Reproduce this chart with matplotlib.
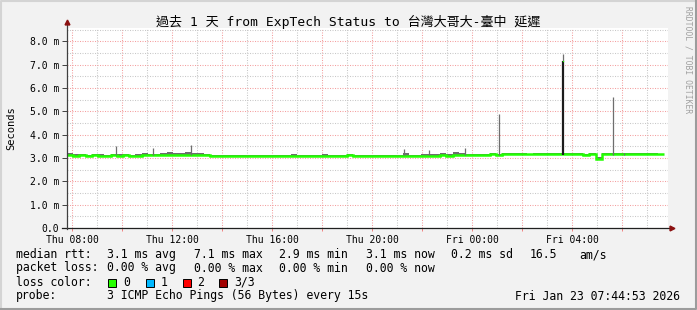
import matplotlib
matplotlib.use("Agg")
import matplotlib.pyplot as plt
from matplotlib.patches import Rectangle
from matplotlib.lines import Line2D
from matplotlib.ticker import MultipleLocator, FuncFormatter
import numpy as np

# ---- data (seconds, shown in milli-seconds) ----
# 15 minute buckets starting Thu 07:48 (hours since Thu 00:00)
t_start = 7.8
t_end = 31.68
median_ms = [
    3.12, 3.10, 3.11, 3.10, 3.11, 3.10, 3.10, 3.11,
    3.10, 3.11, 3.10, 3.10, 3.12, 3.11, 3.11, 3.12,
    3.12, 3.11, 3.12, 3.11, 3.12, 3.11, 3.11, 3.10,
    3.10, 3.09, 3.10, 3.09, 3.09, 3.10, 3.09, 3.09,
    3.09, 3.10, 3.09, 3.09, 3.10, 3.09, 3.09, 3.10,
    3.09, 3.10, 3.10, 3.09, 3.10, 3.11, 3.10, 3.10,
    3.09, 3.08, 3.09, 3.08, 3.09, 3.09, 3.10, 3.09,
    3.09, 3.10, 3.09, 3.10, 3.11, 3.10, 3.11, 3.12,
    3.12, 3.11, 3.12, 3.13, 3.15, 3.14, 3.15, 3.15,
    3.16, 3.15, 3.15, 3.16, 3.15, 3.16, 3.15, 3.16,
    3.15, 3.16, 3.15, 3.14, 3.16, 2.97, 3.15, 3.16,
    3.16, 3.16, 3.15, 3.16, 3.16, 3.15, 3.16, 3.15,
]
smoke_top_ms = [
    3.22, 3.15, 3.18, 3.14, 3.16, 3.15, 3.14, 3.16,
    3.15, 3.16, 3.14, 3.15, 3.20, 3.18, 3.17, 3.22,
    3.24, 3.20, 3.22, 3.25, 3.22, 3.21, 3.18, 3.14,
    3.13, 3.12, 3.14, 3.12, 3.13, 3.14, 3.12, 3.13,
    3.12, 3.14, 3.12, 3.13, 3.15, 3.13, 3.12, 3.14,
    3.13, 3.15, 3.14, 3.12, 3.14, 3.16, 3.14, 3.13,
    3.13, 3.12, 3.14, 3.12, 3.13, 3.14, 3.20, 3.14,
    3.14, 3.18, 3.15, 3.16, 3.20, 3.17, 3.24, 3.20,
    3.18, 3.16, 3.18, 3.19, 3.20, 3.19, 3.22, 3.20,
    3.21, 3.20, 3.19, 3.21, 3.20, 3.21, 3.20, 3.21,
    3.20, 3.21, 3.20, 3.19, 3.21, 3.02, 3.20, 3.21,
    3.21, 3.22, 3.20, 3.21, 3.20, 3.21, 3.20, 3.19,
]
# thin single-sample spikes in the smoke
spike_t = [9.76, 11.24, 12.75, 21.28, 22.28, 23.72, 25.08, 29.64, 30.08]
spike_top = [3.50, 3.42, 3.55, 3.38, 3.33, 3.43, 4.90, 5.60, 3.22]
# the big one around Fri 03:38
big_t = 27.63
big_dense_top = 7.17
big_max = 7.47

x_ticks_labels = {8: "Thu 08:00", 12: "Thu 12:00", 16: "Thu 16:00",
                  20: "Thu 20:00", 24: "Fri 00:00", 28: "Fri 04:00"}

W, H = 697, 310
mono = ["DejaVu Sans Mono", "Noto Sans CJK TC"]
bg = "#f2f2f2"

fig = plt.figure(figsize=(W / 100, H / 100), dpi=100, facecolor=bg)
ax = fig.add_axes([67 / W, (H - 228) / H, 601 / W, 200 / H])
ax.set_facecolor("white")
ax.set_xlim(t_start, t_start + 601 / 25)
ax.set_ylim(0, 200 / 23.35)

# grid
dot = (0, (1, 1.4))
ax.xaxis.set_major_locator(MultipleLocator(2))
ax.xaxis.set_minor_locator(MultipleLocator(1))
ax.yaxis.set_major_locator(MultipleLocator(1))
ax.yaxis.set_minor_locator(MultipleLocator(0.5))
ax.grid(which="minor", color="#c8c8c8", linestyle=dot, linewidth=0.75)
ax.grid(which="major", color="#f4a0a0", linestyle=dot, linewidth=0.75)
ax.set_axisbelow(True)

edges = np.linspace(t_start, t_end, len(median_ms) + 1)
ax.stairs(smoke_top_ms, edges, baseline=median_ms, fill=True,
          color="#6e6e6e", linewidth=0)
ax.vlines(spike_t, 3.12, spike_top, color="#6e6e6e", linewidth=0.9)
ax.vlines(big_t, big_dense_top, big_max, color="#6e6e6e", linewidth=0.9)
ax.vlines(big_t, 3.12, big_dense_top, color="#1c1c1c", linewidth=1.6)
ax.stairs(median_ms, edges, baseline=None, color="#22ff00", linewidth=1.8)
ax.plot([big_t], [big_dense_top], "s", color="#22ff00", markersize=0.9,
        markeredgewidth=0)

# axes lines with arrows
for s in ax.spines.values():
    s.set_visible(False)
ax.add_line(Line2D([-5 / 601, 603 / 601], [0, 0], transform=ax.transAxes,
                   color="#202020", linewidth=0.9, clip_on=False))
ax.add_line(Line2D([0, 0], [-1 / 200, 204 / 200], transform=ax.transAxes,
                   color="#404040", linewidth=0.9, clip_on=False))
ax.plot([605 / 601], [0], ">", transform=ax.transAxes, color="#8b1010",
        markersize=3.5, clip_on=False)
ax.plot([0], [206 / 200], "^", transform=ax.transAxes, color="#8b1010",
        markersize=3.5, clip_on=False)

ax.tick_params(axis="y", which="major", length=3.5, width=0.7, color="#404040",
               pad=2, labelsize=7)
ax.tick_params(axis="y", which="minor", length=0)
ax.tick_params(axis="x", which="major", length=2.5, width=0.7, color="#f08080",
               pad=2.5, labelsize=7)
ax.tick_params(axis="x", which="minor", length=0)
ax.yaxis.set_major_formatter(FuncFormatter(lambda v, p: "0.0" if v == 0 else f"{v:.1f} m"))
ax.xaxis.set_major_formatter(FuncFormatter(lambda v, p: x_ticks_labels.get(int(round(v)), "")))
for lab in ax.get_xticklabels() + ax.get_yticklabels():
    lab.set_family(mono)

# title / labels
fig.text(348.5 / W, 1 - 22 / H, "過去 1 天 from ExpTech Status to 台灣大哥大-臺中 延遲",
         family=mono, fontsize=9.4, ha="center", va="center")
fig.text(11 / W, 1 - 128 / H, "Seconds", family=mono, fontsize=7.5,
         rotation=90, ha="center", va="center")
fig.text(688 / W, 1 - 60 / H, "RRDTOOL / TOBI OETIKER", family=mono, fontsize=5.8,
         rotation=-90, ha="center", va="center", color="#a0a0a0")

# legend block
fs = 8.3
rows = [
    (254.5, [(16, "median rtt:"), (107, "3.1 ms avg"), (194, "7.1 ms max"),
             (279, "2.9 ms min"), (366, "3.1 ms now"), (451, "0.2 ms sd"),
             (530, "16.5"), (579, "am/s")]),
    (268, [(16, "packet loss:"), (107, "0.00 % avg"), (194, "0.00 % max"),
           (279, "0.00 % min"), (366, "0.00 % now")]),
    (282, [(16, "loss color:"), (123, "0"), (161, "1"), (197, "2"), (234, "3/3")]),
    (296, [(16, "probe:"), (107, "3 ICMP Echo Pings (56 Bytes) every 15s")]),
]
for y, items in rows:
    for x, s in items:
        fig.text(x / W, 1 - y / H, s, family=mono, fontsize=fs, ha="left", va="center")
fig.text(680 / W, 1 - 296 / H, "Fri Jan 23 07:44:53 2026", family=mono,
         fontsize=fs, ha="right", va="center")

loss_colors = ["#26ff00", "#00b8ff", "#ff0000", "#a10000"]
loss_x = [108, 145.5, 182.5, 219]
for x, c in zip(loss_x, loss_colors):
    fig.add_artist(Rectangle((x / W, 1 - 287 / H), 8 / W, 8 / H,
                             transform=fig.transFigure, facecolor=c,
                             edgecolor="black", linewidth=0.7))

# 3d frame
fig.add_artist(Line2D([1 / W, 1 / W, 1 - 1 / W], [0, 1 - 1 / H, 1 - 1 / H],
                      transform=fig.transFigure, color="#d4d4d4", linewidth=1.5))
fig.add_artist(Line2D([1 / W, 1 - 1 / W, 1 - 1 / W], [1 / H, 1 / H, 1],
                      transform=fig.transFigure, color="#9c9c9c", linewidth=1.5))

fig.savefig("out.png", dpi=100, facecolor=bg)
